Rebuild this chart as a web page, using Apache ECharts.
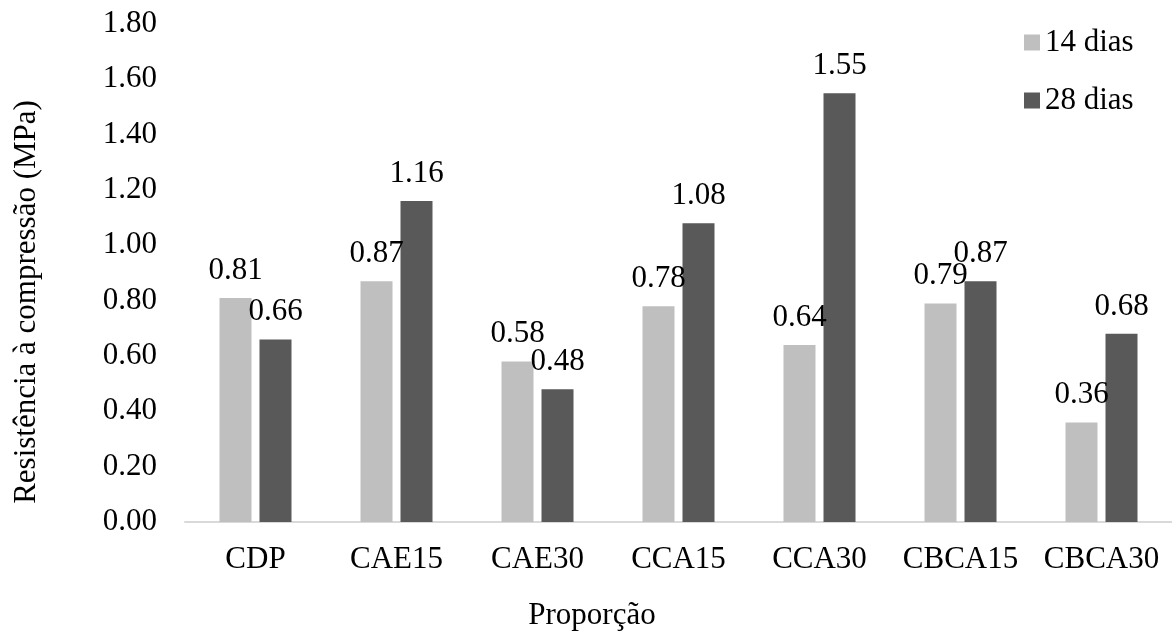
<!DOCTYPE html>
<html>
<head>
<meta charset="utf-8">
<script src="https://cdn.jsdelivr.net/npm/echarts@6/dist/echarts.min.js"></script>
<style>
html,body{margin:0;padding:0;background:#fff;}
#chart{width:1172px;height:633px;}
</style>
</head>
<body>
<div id="chart"></div>
<script>
var categories = ['CDP', 'CAE15', 'CAE30', 'CCA15', 'CCA30', 'CBCA15', 'CBCA30'];
var dias14 = [0.81, 0.87, 0.58, 0.78, 0.64, 0.79, 0.36];
var dias28 = [0.66, 1.16, 0.48, 1.08, 1.55, 0.87, 0.68];
var seriesNames = ['14 dias', '28 dias'];
var yTicks = { min: 0, max: 1.8, interval: 0.2 };
var xTitle = 'Proporção';
var yTitle = 'Resistência à compressão (MPa)';

var FONT = '"Liberation Serif", "Times New Roman", serif';
var FS = 31;

var chart = echarts.init(document.getElementById('chart'), null, { renderer: 'canvas' });
var labelOpt = {
  show: true,
  position: 'top',
  distance: 12,
  color: '#000',
  fontFamily: FONT,
  fontSize: FS,
  formatter: function (p) { return p.value.toFixed(2); }
};
chart.setOption({
  backgroundColor: '#fff',
  animation: false,
  textStyle: { fontFamily: FONT },
  grid: { left: 185, right: 0, top: 24, bottom: 111, containLabel: false },
  legend: {
    data: seriesNames,
    orient: 'vertical',
    left: 1024,
    top: 27,
    padding: 0,
    itemWidth: 16,
    itemHeight: 16,
    itemGap: 27,
    icon: 'rect',
    textStyle: { fontFamily: FONT, fontSize: FS, color: '#000' }
  },
  graphic: [
    { type: 'text', x: 592, y: 616,
      style: { text: xTitle, fontFamily: FONT, fontSize: FS, fill: '#000', align: 'center', verticalAlign: 'middle' } },
    { type: 'text', x: 27, y: 302, rotation: Math.PI / 2,
      style: { text: yTitle, fontFamily: FONT, fontSize: FS, fill: '#000', align: 'center', verticalAlign: 'middle' } }
  ],
  xAxis: {
    type: 'category',
    data: categories,
    axisLine: { lineStyle: { color: '#d9d9d9', width: 2 } },
    axisTick: { show: false },
    axisLabel: { fontFamily: FONT, fontSize: FS, color: '#000', margin: 22, interval: 0, hideOverlap: false }
  },
  yAxis: {
    type: 'value',
    min: yTicks.min,
    max: yTicks.max,
    interval: yTicks.interval,
    axisLine: { show: false },
    axisTick: { show: false },
    splitLine: { show: false },
    axisLabel: { fontFamily: FONT, fontSize: FS, color: '#000', margin: 28,
      formatter: function (v) { return v.toFixed(2); } }
  },
  series: [
    { name: seriesNames[0], type: 'bar', data: dias14, barWidth: 32, barGap: '25%',
      itemStyle: { color: '#bfbfbf' }, label: labelOpt },
    { name: seriesNames[1], type: 'bar', data: dias28, barWidth: 32, barGap: '25%',
      itemStyle: { color: '#595959' }, label: labelOpt }
  ]
});
</script>
</body>
</html>
